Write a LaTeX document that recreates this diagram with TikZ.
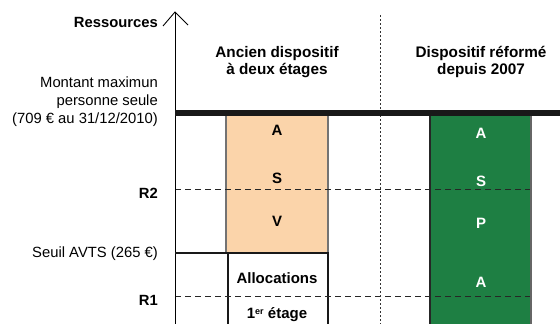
\documentclass[tikz,border=0pt]{standalone}
\usepackage{fontspec}
\setmainfont{Liberation Sans}
\begin{document}
\begin{tikzpicture}[x=1pt,y=-1pt,
  lbl/.style={font=\fontsize{14.8}{18}\selectfont,align=right,anchor=east,inner sep=0pt},
  lblb/.style={font=\fontsize{14.8}{18}\selectfont\bfseries,anchor=east,inner sep=0pt},
  hdr/.style={font=\fontsize{15.3}{17.5}\selectfont\bfseries,align=center,inner sep=0pt},
  let/.style={font=\fontsize{15}{16}\selectfont\bfseries,inner sep=0pt},
  dashln/.style={line width=0.9pt,dash pattern=on 6pt off 4pt,black!85},
  dotln/.style={line width=0.9pt,dash pattern=on 2pt off 2pt,black!80}]
\definecolor{peach}{HTML}{FBD4AA}
\definecolor{dgreen}{HTML}{1E7F43}
\useasboundingbox (0,0) rectangle (560,324);
% boxes
\fill[peach] (226,115) rectangle (328,253);
\draw[line width=2pt,black!55] (226,116) -- (226,253) (328,116) -- (328,253);
\fill[dgreen] (430,115) rectangle (531,324);
\draw[line width=2pt,black!85] (430,116) -- (430,324);
\draw[line width=2pt,black!60] (531,116) -- (531,324);
\draw[line width=2pt,black!90] (228,324) -- (228,253) -- (328,253) -- (328,324);
% dashed levels
\coordinate (r2a) at (175,189); \coordinate (r2b) at (530,189);
\coordinate (r1a) at (175,296); \coordinate (r1b) at (530,296);
\draw[dashln] (r2a) -- (r2b);
\draw[dashln] (r1a) -- (r1b);
% dotted separator
\coordinate (sepT) at (380,15); \coordinate (sepB) at (380,324);
\draw[dotln] (sepT) -- (sepB);
% axis
\coordinate (ax0) at (175,324); \coordinate (ax1) at (175,12);
\draw[line width=0.9pt] (ax0) -- (ax1);
\draw[line width=0.9pt] (163,26) -- (ax1) -- (188,25);
% thick lines
\draw[line width=5.5pt,black!90] (175,113) -- (560,113);
\draw[line width=2.5pt,black!90] (175,253) -- (228,253);
% labels
\node[lblb] (res) at (158,22) {Ressources};
\node[lbl] (mont) at (158,102) {Montant maximun\\personne seule\\(709 € au 31/12/2010)};
\node[lblb] (r2) at (158,193) {R2};
\node[lbl] (seuil) at (158,254) {Seuil AVTS (265 €)};
\node[lblb] (r1) at (158,300) {R1};
% headers
\node[hdr] (h1) at (277,62) {Ancien dispositif\\à deux étages};
\node[hdr] (h2) at (481,62) {Dispositif réformé\\depuis 2007};
% letters
\node[let] (oA) at (277,130) {A};
\node[let] (oS) at (277,178) {S};
\node[let] (oV) at (277,221) {V};
\node[let,white] (gA) at (481,133) {A};
\node[let,white] (gS) at (481,181) {S};
\node[let,white] (gP) at (481,223) {P};
\node[let,white] (gA2) at (481,282) {A};
\node[let] (al) at (277,278) {Allocations};
\node[let] (et) at (277,315) {1{\fontsize{9}{9}\selectfont\raisebox{0.45em}{er}} étage};
\end{tikzpicture}
\end{document}
